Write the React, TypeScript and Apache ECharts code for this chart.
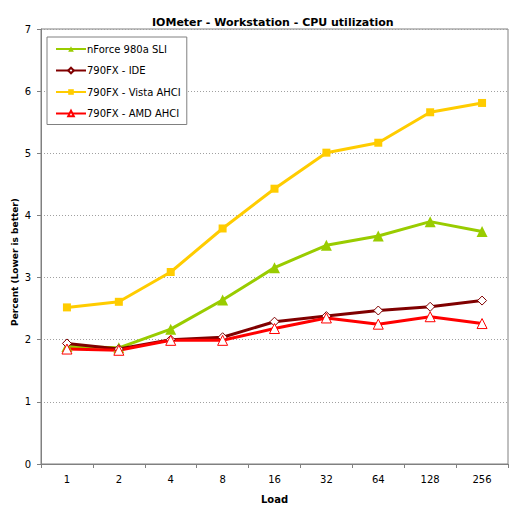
import React, { useEffect, useRef } from "react";
import * as echarts from "echarts";

const categories = ["1", "2", "4", "8", "16", "32", "64", "128", "256"];
const nforce = [1.89, 1.87, 2.17, 2.64, 3.16, 3.52, 3.67, 3.9, 3.74];
const ide = [1.94, 1.85, 2.0, 2.04, 2.29, 2.38, 2.47, 2.53, 2.63];
const vista = [2.52, 2.61, 3.09, 3.79, 4.43, 5.01, 5.17, 5.66, 5.81];
const amd = [1.85, 1.83, 1.99, 1.99, 2.18, 2.35, 2.25, 2.37, 2.26];

const FONT = "DejaVu Sans";

export default function App() {
  const ref = useRef<HTMLDivElement>(null);
  useEffect(() => {
    if (!ref.current) return;
    const chart = echarts.init(ref.current, null, { renderer: "svg" });
    const mk = (name: string, data: number[], color: string, symbol: string, size: number, hollow: boolean) => ({
      name,
      type: "line",
      data,
      symbol,
      symbolSize: size,
      showAllSymbol: true,
      lineStyle: { color, width: 3 },
      itemStyle: { color: hollow ? "#ffffff" : color, borderColor: color, borderWidth: hollow ? 1 : 0 },
      emphasis: { disabled: true },
    });
    chart.setOption({
      animation: false,
      backgroundColor: "#ffffff",
      textStyle: { fontFamily: FONT },
      title: {
        text: "IOMeter - Workstation - CPU utilization",
        left: 147,
        top: 12,
        textStyle: { fontFamily: FONT, fontSize: 11, fontWeight: "bold", color: "#000" },
      },
      graphic: [
        {
          type: "text",
          x: 15,
          y: 262,
          rotation: Math.PI / 2,
          style: {
            text: "Percent (Lower is better)",
            fontFamily: FONT,
            fontSize: 9,
            fontWeight: "bold",
            fill: "#000",
            align: "center",
            verticalAlign: "middle",
          },
        },
      ],
      grid: {
        left: 41,
        top: 29,
        right: 5,
        bottom: 49,
        outerBoundsMode: "none",
        containLabel: false,
        show: true,
        borderColor: "#808080",
        borderWidth: 1,
        backgroundColor: "transparent",
      },
      legend: {
        orient: "vertical",
        left: 47,
        top: 37,
        padding: [6, 6, 5, 8],
        itemWidth: 30,
        itemHeight: 7,
        itemGap: 9.5,
        borderColor: "#808080",
        borderWidth: 1,
        backgroundColor: "#ffffff",
        textStyle: { fontFamily: FONT, fontSize: 10, color: "#000", lineHeight: 12, padding: [0, 0, 0, -4] },
        data: ["nForce 980a SLI", "790FX - IDE", "790FX - Vista AHCI", "790FX - AMD AHCI"],
      },
      xAxis: {
        type: "category",
        data: categories,
        boundaryGap: true,
        name: "Load",
        nameLocation: "middle",
        nameGap: 30,
        nameTextStyle: { fontFamily: FONT, fontSize: 10, fontWeight: "bold", color: "#000" },
        axisLine: { lineStyle: { color: "#808080" } },
        axisTick: { show: true, length: 4, alignWithLabel: false, lineStyle: { color: "#808080" } },
        axisLabel: { fontFamily: FONT, fontSize: 10, color: "#000", margin: 10 },
        splitLine: { show: false },
      },
      yAxis: {
        type: "value",
        min: 0,
        max: 7,
        interval: 1,
        axisLine: { show: true, lineStyle: { color: "#808080" } },
        axisTick: { show: true, length: 4, lineStyle: { color: "#808080" } },
        axisLabel: { fontFamily: FONT, fontSize: 10, color: "#000", margin: 10 },
        splitLine: { show: true, lineStyle: { color: "#a0a0a0", type: [1, 2], width: 1 } },
      },
      series: [
        mk("nForce 980a SLI", nforce, "#99cc00", "triangle", 11, false),
        mk("790FX - IDE", ide, "#800000", "diamond", 9, true),
        mk("790FX - Vista AHCI", vista, "#ffcc00", "rect", 8, false),
        mk("790FX - AMD AHCI", amd, "#ff0000", "triangle", 10, true),
      ],
    });
    return () => chart.dispose();
  }, []);
  return (
    <div
      ref={ref}
      style={{ position: "fixed", left: 0, top: 0, width: 513, height: 513, background: "#fff" }}
    />
  );
}
